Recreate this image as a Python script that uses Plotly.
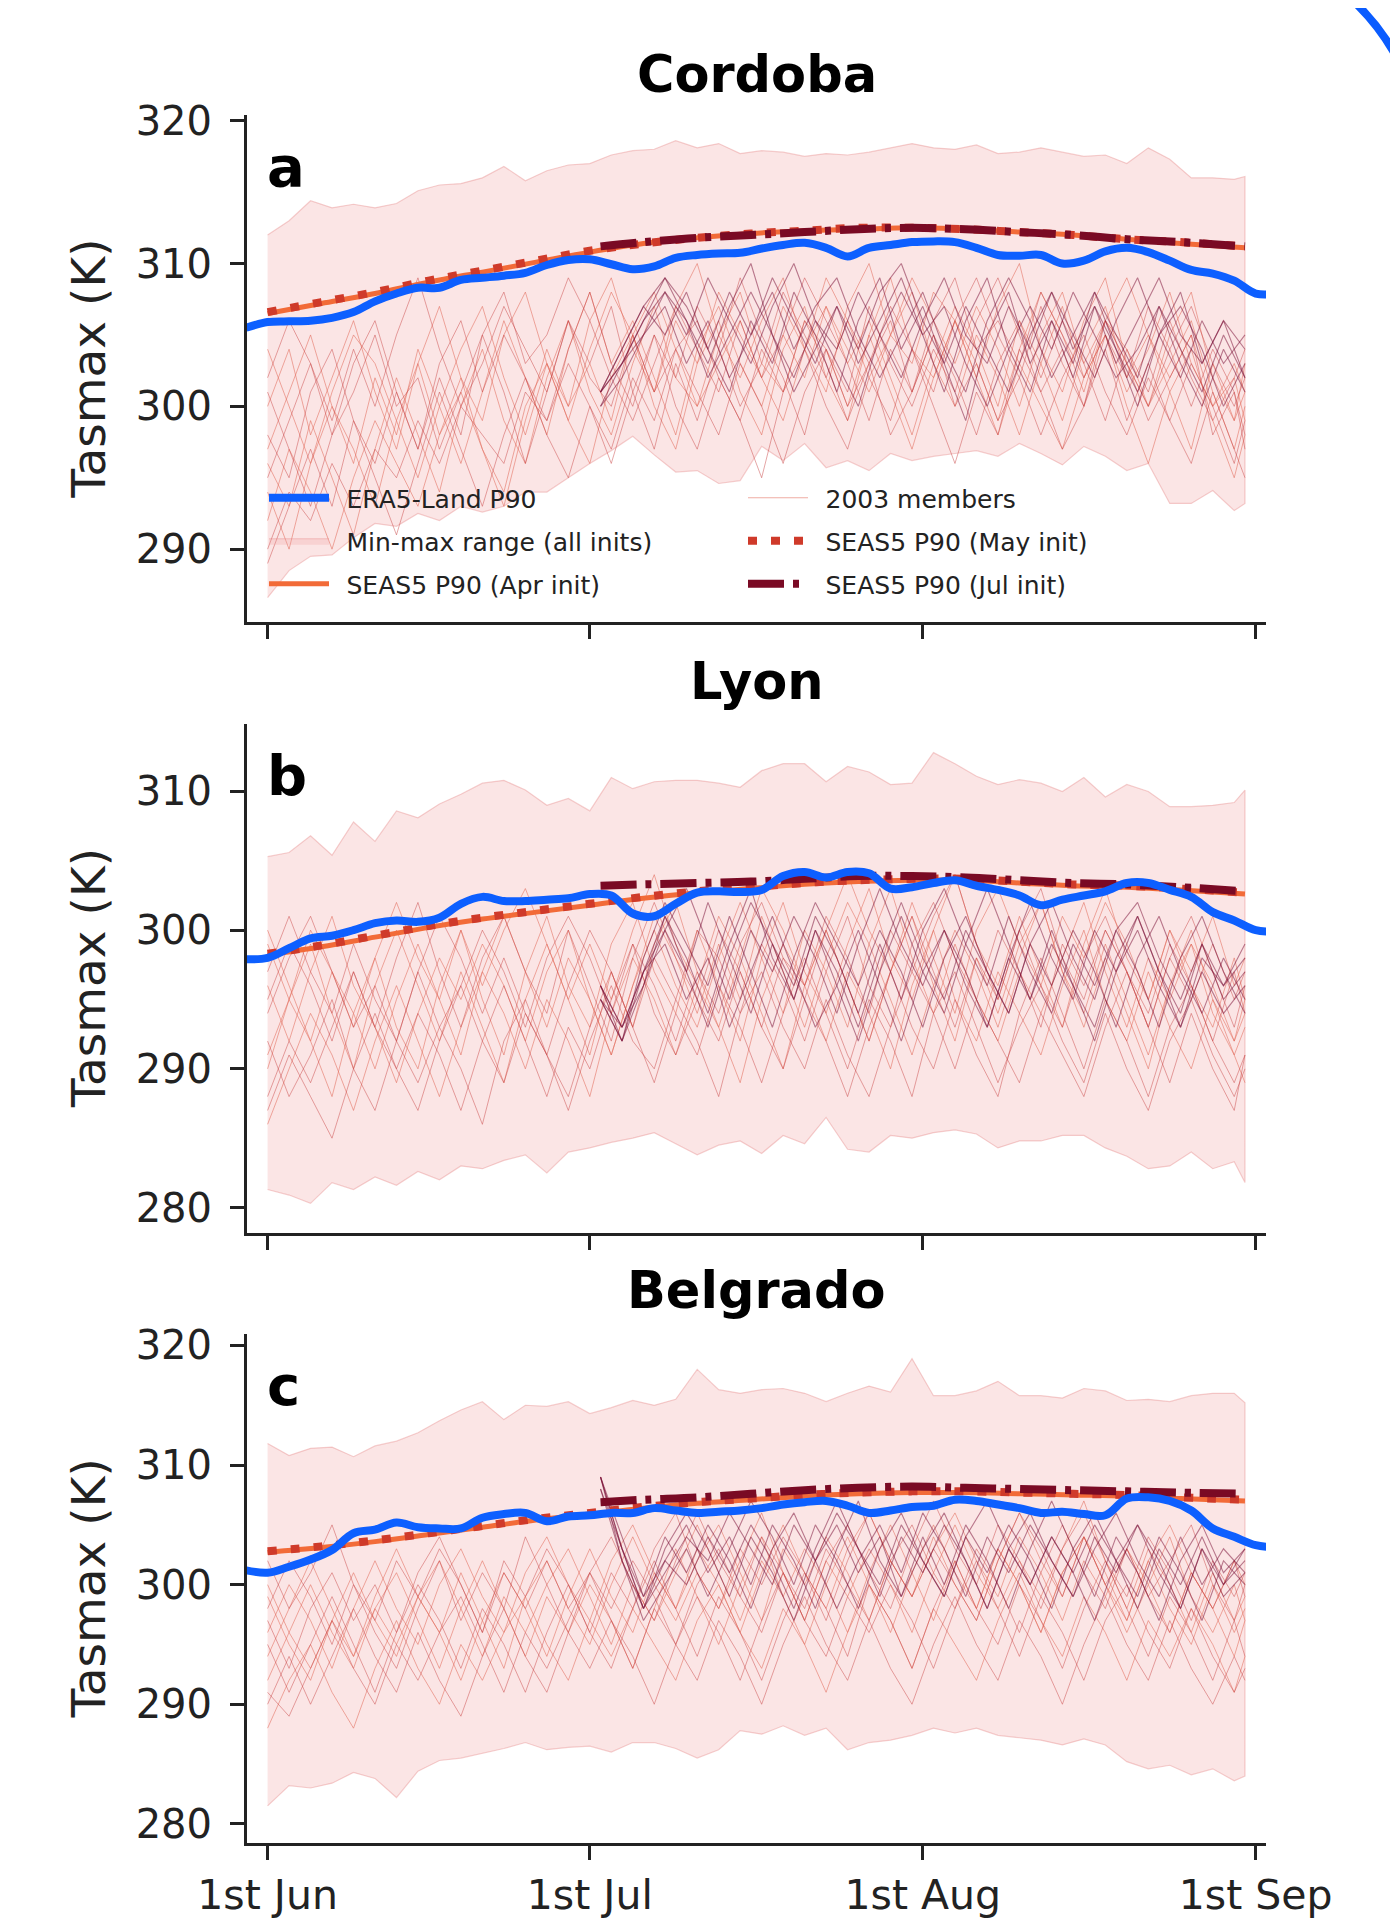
import pandas as pd
import plotly.graph_objects as go

FONT = "DejaVu Sans"
INK = "#222222"
W, H = 1398, 1927
OFF = 8  # the page body margin shifts the figure by 8 px; positions below are page pixels
BASE = pd.Timestamp("2003-06-01")

# ---------------- day offsets from 1 June 2003 ----------------
grid_days = list(range(0, 91, 2)) + [91]          # min-max band, Apr/May-init members
jul_days = list(range(31, 92, 2))                 # Jul-init members
era_days = list(range(-2, 95, 2))                 # ERA5-Land P90
p90_days = list(range(0, 90, 5)) + [91]           # SEAS5 P90 Apr / May init
jul_p90_days = [31] + list(range(35, 90, 5)) + [91]  # SEAS5 P90 Jul init

tick_dates = ["2003-06-01", "2003-07-01", "2003-08-01", "2003-09-01"]
tick_text = ["1st Jun", "1st Jul", "1st Aug", "1st Sep"]

# ---------------- Cordoba ----------------
cordoba_era5 = [305.5, 305.9, 305.95, 306.0, 306.2, 306.6, 307.35, 307.9, 308.3, 308.3, 308.85, 309.0, 309.15,
                309.35, 309.9, 310.25, 310.3, 309.95, 309.6, 309.8, 310.4, 310.6, 310.7, 310.75, 311.05, 311.3,
                311.45, 311.1, 310.5, 311.1, 311.3, 311.5, 311.55, 311.5, 311.1, 310.6, 310.55, 310.6, 310.0,
                310.2, 310.85, 311.1, 310.8, 310.2, 309.55, 309.3, 308.8, 307.9, 307.9]
cordoba_upper = [312.0, 313.0, 314.4, 313.9, 314.15, 313.9, 314.2, 315.1, 315.5, 315.6, 316.0, 316.8, 315.8, 316.5,
                 316.9, 317.0, 317.6, 317.9, 318.0, 318.6, 318.1, 318.4, 317.7, 317.9, 317.8, 317.5, 317.7, 317.6,
                 317.8, 318.1, 318.4, 318.1, 318.0, 318.3, 317.7, 317.8, 318.1, 317.8, 317.5, 317.6, 317.0, 318.1,
                 317.3, 316.0, 316.0, 315.9, 316.1]
cordoba_lower = [286.6, 288.5, 289.5, 289.6, 290.8, 291.8, 291.6, 292.5, 292.0, 293.0, 292.6, 293.0, 294.0, 294.0,
                 295.0, 296.0, 296.9, 297.9, 296.6, 295.4, 295.5, 294.6, 294.8, 297.2, 296.2, 297.4, 295.7, 296.2,
                 295.5, 296.7, 296.2, 296.5, 296.7, 296.9, 296.5, 297.4, 296.7, 295.9, 297.2, 296.5, 295.5, 296.0,
                 293.2, 293.2, 294.1, 292.7, 293.2]
cordoba_apr_p90 = [306.5, 307.2, 307.9, 308.7, 309.4, 310.1, 310.8, 311.4, 311.8, 312.1, 312.3, 312.4, 312.5, 312.4,
                   312.2, 312.0, 311.7, 311.4, 311.1]
cordoba_may_p90 = [306.6, 307.3, 308.0, 308.8, 309.5, 310.2, 310.9, 311.4, 311.8, 312.1, 312.3, 312.5, 312.5, 312.4,
                   312.2, 312.0, 311.7, 311.5, 311.2]
cordoba_jul_p90 = [311.2, 311.5, 311.8, 312.0, 312.2, 312.4, 312.5, 312.4, 312.2, 312.0, 311.7, 311.5, 311.2]
cordoba_apr_members = [
    [300, 304, 298, 302, 306, 301, 297, 303, 307, 302, 299, 305, 308, 303, 300, 306, 309, 304, 301, 307, 310, 305, 302, 306, 309, 304, 301, 307, 310, 305, 303, 308, 306, 302, 307, 310, 304, 301, 306, 309, 303, 300, 305, 308, 302, 299, 303],
    [296, 293, 299, 295, 291, 297, 302, 298, 294, 300, 304, 299, 296, 302, 306, 301, 298, 303, 307, 302, 300, 305, 308, 303, 301, 306, 304, 300, 305, 309, 304, 302, 306, 303, 299, 304, 308, 305, 301, 306, 304, 300, 303, 306, 301, 297, 300],
    [304, 300, 296, 301, 305, 303, 299, 295, 300, 304, 307, 302, 298, 303, 299, 304, 308, 305, 301, 306, 303, 308, 305, 302, 307, 304, 309, 306, 302, 305, 309, 306, 303, 307, 304, 300, 305, 308, 303, 306, 309, 305, 302, 305, 300, 303, 301],
    [292, 297, 294, 290, 295, 299, 296, 293, 298, 302, 297, 294, 300, 303, 299, 296, 302, 305, 300, 297, 303, 306, 301, 298, 304, 307, 302, 299, 305, 301, 297, 302, 306, 302, 298, 303, 300, 297, 302, 305, 300, 296, 301, 304, 299, 295, 298],
    [297, 301, 305, 300, 296, 302, 298, 304, 300, 296, 301, 306, 302, 298, 304, 308, 303, 306, 302, 298, 304, 307, 303, 300, 305, 302, 307, 304, 301, 305, 308, 303, 300, 305, 302, 298, 303, 307, 302, 305, 301, 304, 308, 303, 300, 302, 299],
    [294, 290, 296, 300, 297, 293, 299, 303, 298, 301, 297, 293, 299, 304, 300, 303, 299, 305, 308, 304, 300, 303, 306, 302, 299, 304, 307, 303, 306, 302, 298, 303, 307, 304, 300, 306, 303, 299, 304, 307, 302, 305, 301, 297, 303, 299, 301],
]
cordoba_may_members = [
    [298, 295, 301, 304, 299, 296, 301, 297, 303, 306, 301, 305, 302, 299, 304, 308, 303, 300, 305, 302, 307, 304, 300, 303, 308, 305, 302, 306, 303, 307, 304, 301, 306, 309, 305, 302, 307, 303, 300, 305, 302, 307, 304, 300, 304, 301, 298],
    [302, 306, 303, 299, 304, 300, 305, 309, 304, 300, 303, 307, 304, 301, 306, 302, 300, 305, 301, 304, 306, 302, 299, 304, 301, 306, 303, 299, 303, 306, 301, 305, 302, 298, 303, 306, 302, 306, 303, 299, 304, 301, 306, 302, 299, 302, 304],
    [295, 299, 303, 298, 301, 305, 300, 302, 297, 301, 305, 308, 303, 305, 309, 306, 302, 299, 303, 307, 304, 301, 306, 302, 305, 309, 306, 303, 299, 304, 301, 306, 309, 304, 306, 303, 308, 305, 302, 306, 303, 300, 304, 307, 303, 300, 302],
    [290, 294, 292, 296, 293, 297, 295, 299, 296, 300, 298, 296, 301, 299, 303, 300, 297, 302, 299, 304, 301, 298, 303, 300, 296, 301, 304, 300, 303, 298, 301, 305, 300, 303, 299, 302, 298, 302, 305, 301, 298, 302, 299, 303, 300, 296, 299],
    [301, 297, 293, 298, 303, 306, 301, 297, 302, 298, 305, 301, 296, 301, 306, 303, 307, 301, 297, 303, 299, 304, 309, 305, 302, 298, 304, 301, 307, 303, 300, 304, 301, 306, 309, 305, 301, 304, 300, 306, 303, 299, 302, 305, 298, 301, 297],
    [289, 293, 297, 293, 299, 295, 291, 296, 301, 297, 293, 298, 302, 298, 295, 300, 296, 301, 305, 300, 297, 302, 299, 295, 301, 304, 300, 297, 302, 299, 304, 300, 296, 301, 298, 304, 301, 297, 300, 304, 299, 303, 299, 296, 301, 297, 295],
]
cordoba_jul_members = [
    [301, 303, 306, 308, 305, 309, 306, 303, 307, 310, 306, 304, 308, 305, 302, 306, 309, 305, 303, 307, 304, 308, 305, 302, 306, 309, 305, 302, 306, 303, 305],
    [301, 304, 307, 309, 307, 304, 308, 305, 309, 306, 303, 307, 304, 308, 310, 306, 303, 307, 304, 301, 305, 308, 304, 307, 303, 306, 309, 305, 303, 306, 302],
    [300, 302, 305, 307, 303, 306, 302, 305, 308, 304, 307, 309, 305, 302, 305, 308, 304, 301, 306, 309, 306, 302, 305, 308, 304, 301, 305, 307, 304, 300, 303],
    [301, 303, 305, 308, 306, 302, 305, 308, 305, 301, 304, 307, 303, 306, 309, 305, 307, 303, 300, 304, 307, 304, 308, 305, 302, 304, 307, 303, 300, 304, 301],
    [301, 304, 307, 305, 308, 304, 301, 306, 303, 308, 305, 301, 306, 309, 304, 307, 303, 299, 305, 308, 303, 306, 302, 307, 304, 300, 305, 308, 303, 306, 304],
    [300, 303, 306, 309, 306, 303, 307, 310, 305, 302, 306, 303, 300, 305, 308, 305, 301, 306, 309, 304, 301, 306, 303, 308, 305, 302, 307, 304, 301, 305, 302],
]

# ---------------- Lyon ----------------
lyon_era5 = [297.9, 298.0, 298.7, 299.4, 299.6, 300.0, 300.5, 300.7, 300.6, 300.9, 301.9, 302.4, 302.1, 302.1,
             302.2, 302.3, 302.6, 302.5, 301.2, 301.0, 301.9, 302.7, 302.8, 302.75, 302.9, 303.9, 304.2, 303.8,
             304.2, 304.1, 303.0, 303.1, 303.4, 303.6, 303.2, 302.9, 302.5, 301.8, 302.2, 302.5, 302.8, 303.4,
             303.4, 302.9, 302.4, 301.3, 300.7, 300.0, 299.9]
lyon_upper = [305.3, 305.6, 306.8, 305.4, 307.8, 306.4, 308.6, 308.1, 309.1, 309.8, 310.6, 310.8, 310.1, 309.0,
              309.5, 308.6, 311.0, 310.2, 310.7, 310.8, 310.8, 310.6, 310.3, 311.5, 312.0, 312.0, 310.7, 311.8,
              311.4, 310.5, 310.6, 312.8, 312.0, 311.1, 310.5, 310.85, 310.6, 310.0, 311.0, 309.6, 310.5, 310.0,
              308.9, 308.9, 309.0, 309.2, 310.1]
lyon_lower = [281.3, 280.9, 280.3, 281.8, 281.3, 282.2, 281.6, 282.6, 282.0, 283.0, 282.8, 283.4, 283.8, 282.5,
              284.0, 284.3, 284.7, 285.0, 285.4, 284.6, 283.8, 284.5, 284.8, 283.9, 285.2, 284.6, 286.5, 284.2,
              284.0, 285.2, 285.0, 285.4, 285.6, 285.3, 284.3, 284.8, 284.8, 285.2, 285.2, 284.3, 283.7, 282.8,
              283.0, 284.0, 282.8, 283.3, 281.8]
lyon_apr_p90 = [298.2, 298.8, 299.5, 300.2, 300.8, 301.3, 301.8, 302.3, 302.7, 303.0, 303.3, 303.5, 303.6, 303.6,
                303.4, 303.2, 303.1, 302.9, 302.6]
lyon_may_p90 = [298.3, 298.9, 299.6, 300.3, 300.9, 301.4, 301.9, 302.4, 302.8, 303.1, 303.4, 303.6, 303.7, 303.7,
                303.5, 303.3, 303.2, 303.0, 302.7]
lyon_jul_p90 = [303.2, 303.3, 303.4, 303.5, 303.7, 303.9, 303.9, 303.8, 303.6, 303.4, 303.3, 303.1, 302.8]
lyon_apr_members = [
    [290, 295, 292, 288, 294, 298, 293, 290, 296, 300, 295, 291, 297, 301, 296, 293, 299, 302, 297, 294, 300, 296, 292, 298, 302, 297, 294, 299, 303, 298, 295, 300, 304, 299, 296, 301, 297, 293, 299, 303, 298, 295, 300, 296, 293, 298, 295],
    [296, 292, 297, 301, 296, 293, 289, 294, 298, 295, 299, 296, 292, 297, 300, 295, 291, 296, 301, 298, 294, 299, 295, 301, 297, 293, 298, 302, 299, 295, 291, 296, 300, 297, 293, 298, 302, 297, 294, 299, 295, 291, 296, 299, 294, 291, 293],
    [286, 290, 294, 291, 287, 292, 296, 292, 288, 293, 297, 294, 290, 295, 292, 288, 294, 298, 295, 291, 296, 293, 289, 295, 299, 296, 292, 297, 294, 290, 296, 300, 295, 292, 297, 294, 291, 296, 300, 295, 292, 297, 293, 290, 295, 291, 289],
    [299, 295, 300, 297, 293, 298, 302, 298, 295, 300, 296, 300, 303, 299, 295, 299, 295, 300, 304, 299, 296, 301, 298, 303, 300, 296, 300, 304, 300, 297, 302, 298, 294, 300, 303, 299, 296, 301, 298, 302, 299, 295, 300, 297, 301, 296, 298],
    [291, 295, 299, 294, 290, 296, 300, 296, 292, 297, 293, 289, 295, 299, 295, 291, 297, 293, 299, 302, 297, 293, 298, 294, 290, 296, 300, 296, 292, 297, 301, 296, 292, 298, 294, 299, 302, 297, 293, 298, 294, 290, 296, 300, 295, 292, 294],
    [300, 296, 292, 297, 294, 290, 295, 299, 295, 291, 297, 301, 297, 293, 298, 295, 291, 296, 300, 296, 293, 298, 302, 298, 294, 300, 297, 293, 299, 303, 298, 294, 299, 295, 292, 297, 294, 298, 302, 297, 293, 298, 295, 299, 296, 292, 295],
]
lyon_may_members = [
    [292, 288, 291, 295, 290, 287, 292, 289, 293, 290, 286, 292, 295, 291, 288, 293, 297, 293, 289, 294, 291, 296, 293, 289, 294, 298, 294, 290, 295, 292, 288, 294, 297, 293, 289, 293, 296, 292, 289, 294, 290, 287, 292, 295, 291, 288, 290],
    [294, 298, 301, 297, 293, 296, 292, 297, 301, 298, 294, 298, 294, 291, 296, 300, 297, 293, 298, 295, 300, 298, 294, 299, 296, 292, 297, 301, 296, 293, 299, 302, 298, 295, 300, 297, 293, 299, 296, 300, 297, 293, 298, 301, 297, 293, 296],
    [288, 292, 289, 293, 297, 293, 290, 294, 291, 287, 292, 296, 292, 288, 293, 290, 295, 299, 294, 291, 295, 292, 297, 293, 290, 295, 292, 288, 293, 297, 293, 290, 295, 291, 288, 294, 298, 294, 290, 295, 292, 288, 293, 296, 292, 289, 291],
    [297, 301, 297, 294, 299, 295, 292, 297, 293, 296, 300, 297, 293, 298, 301, 298, 294, 299, 296, 292, 297, 294, 299, 302, 298, 295, 300, 296, 292, 297, 301, 297, 293, 298, 295, 300, 303, 298, 295, 300, 297, 293, 298, 295, 299, 295, 297],
    [287, 291, 288, 285, 290, 294, 290, 287, 292, 296, 292, 289, 294, 291, 287, 292, 296, 292, 290, 295, 292, 288, 294, 297, 293, 290, 295, 291, 288, 293, 297, 294, 290, 295, 292, 289, 294, 291, 288, 293, 297, 293, 289, 294, 290, 287, 291],
    [295, 299, 296, 292, 297, 293, 298, 302, 297, 293, 298, 301, 297, 294, 300, 296, 292, 298, 302, 298, 295, 300, 297, 293, 298, 296, 301, 298, 294, 300, 297, 301, 304, 299, 295, 300, 296, 293, 298, 301, 297, 294, 299, 296, 292, 297, 294],
]
lyon_jul_members = [
    [295, 292, 297, 301, 298, 294, 299, 303, 298, 295, 300, 297, 293, 298, 302, 298, 295, 300, 297, 294, 299, 302, 298, 295, 300, 297, 293, 298, 301, 297, 294],
    [296, 293, 296, 300, 297, 302, 298, 294, 299, 296, 301, 298, 294, 299, 295, 300, 303, 299, 296, 301, 297, 294, 299, 296, 300, 302, 298, 295, 299, 296, 298],
    [295, 292, 298, 302, 299, 296, 301, 297, 293, 298, 302, 299, 296, 300, 297, 293, 298, 301, 297, 294, 299, 296, 300, 297, 293, 298, 301, 297, 294, 298, 295],
    [296, 293, 297, 299, 295, 298, 293, 297, 301, 297, 293, 296, 300, 296, 292, 297, 300, 296, 293, 298, 295, 299, 296, 292, 297, 300, 296, 293, 297, 294, 296],
    [296, 292, 296, 301, 297, 293, 298, 302, 299, 295, 300, 296, 292, 297, 301, 297, 294, 299, 303, 299, 295, 300, 296, 293, 298, 301, 297, 294, 299, 295, 297],
    [295, 293, 297, 300, 303, 299, 295, 300, 297, 301, 298, 294, 299, 303, 299, 296, 300, 297, 293, 298, 302, 298, 295, 300, 297, 301, 297, 293, 298, 296, 299],
]

# ---------------- Belgrado ----------------
belgrado_era5 = [301.2, 301.0, 301.5, 302.1, 302.9, 304.3, 304.6, 305.2, 304.8, 304.7, 304.7, 305.6, 305.9, 306.0,
                 305.3, 305.7, 305.8, 306.0, 306.0, 306.4, 306.2, 306.0, 306.1, 306.2, 306.4, 306.7, 306.9, 307.0,
                 306.6, 306.0, 306.2, 306.5, 306.6, 307.1, 307.0, 306.7, 306.4, 306.0, 306.1, 305.9, 305.8, 307.2,
                 307.3, 307.0, 306.2, 304.7, 304.0, 303.3, 303.1]
belgrado_upper = [311.8, 310.8, 311.4, 311.5, 310.7, 311.6, 312.0, 312.7, 313.7, 314.6, 315.3, 313.8, 315.0, 314.9,
                  315.3, 314.3, 314.8, 315.4, 315.0, 315.5, 318.0, 316.3, 316.0, 316.3, 316.4, 316.0, 315.3, 316.0,
                  316.6, 316.1, 318.9, 315.8, 315.8, 316.2, 317.0, 315.8, 315.8, 315.6, 316.4, 316.2, 315.4, 315.5,
                  315.3, 315.8, 316.0, 316.0, 315.2]
belgrado_lower = [281.5, 283.2, 283.0, 283.4, 284.3, 283.8, 282.2, 284.4, 285.3, 285.5, 285.9, 286.3, 286.8, 286.2,
                  286.4, 286.5, 286.0, 286.8, 286.8, 286.3, 285.5, 286.2, 287.8, 287.5, 288.2, 287.4, 288.0, 286.2,
                  286.8, 287.0, 287.4, 288.0, 287.6, 288.0, 287.4, 287.2, 287.0, 286.6, 287.1, 286.6, 285.2, 284.6,
                  284.9, 284.1, 284.6, 283.6, 284.0]
belgrado_apr_p90 = [302.7, 303.1, 303.6, 304.2, 304.8, 305.4, 305.9, 306.4, 306.8, 307.1, 307.4, 307.6, 307.7, 307.7,
                    307.6, 307.5, 307.4, 307.2, 307.0]
belgrado_may_p90 = [302.8, 303.2, 303.7, 304.3, 304.9, 305.5, 306.0, 306.5, 306.9, 307.2, 307.5, 307.7, 307.8, 307.8,
                    307.7, 307.6, 307.5, 307.3, 307.1]
belgrado_jul_p90 = [306.9, 307.1, 307.3, 307.6, 307.9, 308.1, 308.2, 308.1, 308.0, 307.9, 307.8, 307.7, 307.6]
belgrado_apr_members = [
    [296, 300, 297, 293, 298, 302, 298, 295, 300, 303, 299, 296, 301, 304, 300, 297, 302, 305, 301, 298, 303, 300, 296, 301, 305, 301, 298, 303, 306, 302, 299, 304, 300, 297, 302, 306, 302, 299, 304, 301, 297, 302, 305, 301, 298, 302, 300],
    [292, 296, 300, 296, 293, 298, 295, 299, 302, 298, 294, 299, 296, 300, 303, 299, 295, 300, 297, 301, 305, 301, 297, 302, 299, 295, 300, 304, 300, 296, 301, 305, 301, 298, 303, 300, 296, 301, 304, 300, 297, 302, 298, 295, 300, 296, 298],
    [299, 295, 292, 297, 301, 297, 294, 299, 296, 292, 297, 301, 298, 294, 299, 303, 299, 296, 301, 298, 302, 305, 301, 297, 303, 300, 304, 301, 297, 302, 299, 303, 306, 302, 299, 304, 301, 297, 302, 299, 303, 300, 296, 301, 298, 294, 297],
    [288, 292, 295, 291, 288, 293, 297, 293, 290, 295, 292, 296, 299, 295, 292, 297, 294, 298, 295, 292, 297, 300, 296, 293, 298, 295, 291, 296, 300, 297, 293, 298, 295, 292, 297, 301, 297, 294, 299, 296, 292, 297, 294, 298, 295, 291, 294],
    [294, 298, 302, 298, 294, 299, 303, 299, 296, 301, 297, 293, 299, 302, 298, 295, 300, 304, 300, 297, 301, 298, 302, 306, 301, 297, 302, 299, 303, 300, 296, 301, 305, 301, 298, 302, 299, 303, 307, 302, 298, 303, 300, 296, 301, 297, 299],
    [300, 296, 293, 297, 294, 298, 301, 297, 293, 298, 302, 298, 294, 299, 296, 300, 297, 293, 298, 303, 299, 295, 300, 304, 299, 303, 300, 296, 301, 305, 301, 297, 302, 298, 303, 300, 296, 301, 304, 300, 296, 300, 304, 299, 296, 300, 297],
]
belgrado_may_members = [
    [302, 298, 301, 305, 300, 297, 302, 299, 303, 300, 296, 301, 298, 302, 298, 301, 304, 300, 297, 302, 306, 302, 299, 304, 301, 297, 302, 305, 301, 298, 303, 307, 303, 300, 305, 302, 298, 303, 306, 302, 299, 304, 301, 297, 302, 299, 301],
    [295, 291, 295, 299, 295, 291, 296, 300, 297, 293, 298, 295, 291, 296, 300, 296, 293, 298, 302, 298, 294, 299, 296, 292, 297, 301, 298, 294, 300, 297, 293, 298, 302, 298, 295, 300, 297, 293, 298, 302, 298, 294, 299, 296, 292, 297, 294],
    [290, 294, 290, 294, 298, 294, 291, 296, 292, 289, 294, 298, 294, 291, 296, 293, 297, 294, 290, 295, 292, 297, 294, 290, 295, 299, 295, 292, 297, 293, 290, 295, 299, 295, 292, 297, 294, 290, 295, 299, 295, 292, 297, 293, 290, 294, 292],
    [298, 302, 299, 295, 300, 296, 293, 298, 302, 297, 301, 298, 304, 300, 296, 301, 298, 302, 299, 295, 300, 303, 299, 296, 301, 298, 303, 300, 297, 302, 305, 301, 298, 303, 300, 296, 301, 305, 301, 298, 303, 299, 296, 301, 298, 302, 299],
    [291, 289, 293, 297, 293, 290, 295, 292, 296, 299, 295, 291, 296, 293, 297, 301, 297, 293, 298, 295, 299, 296, 292, 297, 301, 297, 294, 299, 296, 300, 297, 293, 298, 302, 298, 294, 299, 296, 292, 297, 300, 296, 293, 298, 294, 291, 293],
    [297, 293, 298, 301, 297, 300, 296, 301, 304, 300, 296, 302, 299, 303, 300, 296, 301, 298, 303, 306, 301, 298, 303, 300, 304, 301, 297, 302, 306, 302, 299, 303, 300, 297, 302, 306, 303, 299, 304, 300, 303, 299, 302, 305, 300, 297, 300],
]
belgrado_jul_members = [
    [309, 303, 298, 301, 304, 302, 306, 303, 300, 305, 302, 306, 303, 299, 304, 301, 305, 302, 298, 303, 306, 302, 299, 304, 301, 305, 302, 298, 303, 300, 302],
    [309, 304, 299, 302, 300, 304, 301, 305, 302, 298, 303, 307, 303, 300, 305, 302, 299, 304, 307, 303, 300, 304, 301, 297, 302, 305, 301, 298, 303, 299, 301],
    [308, 302, 297, 300, 303, 299, 303, 307, 304, 300, 305, 302, 298, 303, 306, 302, 299, 304, 301, 305, 302, 298, 303, 306, 302, 299, 304, 301, 297, 302, 300],
    [309, 303, 298, 303, 306, 303, 299, 304, 301, 297, 302, 305, 301, 304, 299, 303, 306, 302, 298, 303, 300, 304, 301, 305, 302, 298, 303, 300, 304, 300, 303],
    [309, 302, 298, 302, 305, 301, 304, 300, 305, 302, 298, 303, 307, 302, 299, 304, 300, 305, 302, 298, 303, 307, 303, 299, 304, 301, 297, 302, 305, 301, 303],
    [308, 303, 299, 304, 301, 305, 302, 298, 303, 306, 302, 298, 302, 305, 301, 306, 303, 299, 304, 301, 305, 302, 299, 303, 306, 302, 299, 304, 300, 303, 301],
]

cities = ["Cordoba", "Lyon", "Belgrado"]
letters = ["a", "b", "c"]
yticks = [[290, 300, 310, 320], [280, 290, 300, 310], [280, 290, 300, 310, 320]]

# ---------------- styling / layout spec ----------------
BAND_FILL = "rgba(242,160,160,0.28)"
BAND_LINE = "rgba(225,120,120,0.35)"
APR_MEM = "rgba(225,105,90,0.55)"
MAY_MEM = "rgba(200,70,70,0.48)"
JUL_MEM = "rgba(120,10,50,0.5)"
ERA_COL = "#0d5fff"
APR_COL = "#f26b38"
MAY_COL = "#cf3a2a"
JUL_COL = "#7a0a24"

layout_spec = [
    dict(yrange=[284.9, 320.4], top=115, bottom=622, title_y=74, letter_y=166),
    dict(yrange=[278.2, 314.9], top=723.5, bottom=1232.5, title_y=681, letter_y=776),
    dict(yrange=[278.4, 321.0], top=1333.5, bottom=1843, title_y=1290, letter_y=1385),
]
X_LEFT, X_RIGHT = 247, 1266
XRANGE = ["2003-05-30 02:00", "2003-09-01 23:00"]


def px(x):
    return (x - OFF) / W


def py(y):
    return 1 - (y - OFF) / H


def to_dates(days):
    return [BASE + pd.Timedelta(days=d) for d in days]


def multi(days, series_list):
    xs, ys = [], []
    for s in series_list:
        xs += to_dates(days) + [None]
        ys += list(s) + [None]
    return xs, ys


data = [
    dict(era5=cordoba_era5, upper=cordoba_upper, lower=cordoba_lower, apr=cordoba_apr_p90, may=cordoba_may_p90,
         jul=cordoba_jul_p90, apr_m=cordoba_apr_members, may_m=cordoba_may_members, jul_m=cordoba_jul_members),
    dict(era5=lyon_era5, upper=lyon_upper, lower=lyon_lower, apr=lyon_apr_p90, may=lyon_may_p90,
         jul=lyon_jul_p90, apr_m=lyon_apr_members, may_m=lyon_may_members, jul_m=lyon_jul_members),
    dict(era5=belgrado_era5, upper=belgrado_upper, lower=belgrado_lower, apr=belgrado_apr_p90,
         may=belgrado_may_p90, jul=belgrado_jul_p90, apr_m=belgrado_apr_members, may_m=belgrado_may_members,
         jul_m=belgrado_jul_members),
]

SP = "\u2002"  # small gap between legend symbol and label

fig = go.Figure()

for i, d in enumerate(data):
    xa = "x" if i == 0 else f"x{i + 1}"
    ya = "y" if i == 0 else f"y{i + 1}"
    leg = i == 0
    # min-max band
    bx = to_dates(grid_days) + to_dates(grid_days[::-1])
    by = list(d["upper"]) + list(d["lower"])[::-1]
    fig.add_trace(go.Scatter(x=bx, y=by, fill="toself", fillcolor=BAND_FILL, mode="lines",
                             line=dict(color=BAND_LINE, width=1.2), name=SP + "Min-max range (all inits)",
                             showlegend=leg, legend="legend2", legendrank=1, xaxis=xa, yaxis=ya,
                             hoverinfo="skip"))
    # members
    mx, my = multi(grid_days, d["apr_m"])
    fig.add_trace(go.Scatter(x=mx, y=my, mode="lines", line=dict(color=APR_MEM, width=1),
                             name=SP + "2003 members", showlegend=leg, legend="legend", legendrank=2,
                             xaxis=xa, yaxis=ya, hoverinfo="skip"))
    mx, my = multi(grid_days, d["may_m"])
    fig.add_trace(go.Scatter(x=mx, y=my, mode="lines", line=dict(color=MAY_MEM, width=1),
                             showlegend=False, xaxis=xa, yaxis=ya, hoverinfo="skip"))
    mx, my = multi(jul_days, d["jul_m"])
    fig.add_trace(go.Scatter(x=mx, y=my, mode="lines", line=dict(color=JUL_MEM, width=1.1),
                             showlegend=False, xaxis=xa, yaxis=ya, hoverinfo="skip"))
    # SEAS5 P90
    fig.add_trace(go.Scatter(x=to_dates(p90_days), y=d["apr"], mode="lines",
                             line=dict(color=APR_COL, width=5, shape="spline"),
                             name=SP + "SEAS5 P90 (Apr init)", showlegend=leg, legend="legend3", legendrank=1,
                             xaxis=xa, yaxis=ya))
    fig.add_trace(go.Scatter(x=to_dates(p90_days), y=d["may"], mode="lines",
                             line=dict(color=MAY_COL, width=8, dash="9px,14px", shape="spline"),
                             name=SP + "SEAS5 P90 (May init)", showlegend=leg, legend="legend2", legendrank=2,
                             xaxis=xa, yaxis=ya))
    fig.add_trace(go.Scatter(x=to_dates(jul_p90_days), y=d["jul"], mode="lines",
                             line=dict(color=JUL_COL, width=8, dash="36px,9px,6px,9px", shape="spline"),
                             name=SP + "SEAS5 P90 (Jul init)", showlegend=leg, legend="legend3", legendrank=2,
                             xaxis=xa, yaxis=ya))
    # ERA5-Land
    fig.add_trace(go.Scatter(x=to_dates(era_days), y=d["era5"], mode="lines",
                             line=dict(color=ERA_COL, width=8, shape="spline"),
                             name=SP + "ERA5-Land P90", showlegend=leg, legend="legend", legendrank=1,
                             xaxis=xa, yaxis=ya))

layout = dict(
    width=W, height=H, margin=dict(l=0, r=0, t=0, b=0, autoexpand=False),
    paper_bgcolor="white", plot_bgcolor="white",
    font=dict(family=FONT, color=INK),
    showlegend=True,
)

annotations = []
for i, spec in enumerate(layout_spec):
    xk = "xaxis" if i == 0 else f"xaxis{i + 1}"
    yk = "yaxis" if i == 0 else f"yaxis{i + 1}"
    ydom = [py(spec["bottom"]), py(spec["top"])]
    last = i == len(layout_spec) - 1
    layout[xk] = dict(
        domain=[px(X_LEFT), px(X_RIGHT)], anchor="y" if i == 0 else f"y{i + 1}", automargin=False,
        type="date", range=XRANGE, tickmode="array", tickvals=tick_dates, ticktext=tick_text,
        showticklabels=last, ticks="outside", ticklen=14, tickwidth=2.5, tickcolor=INK,
        showline=True, linecolor=INK, linewidth=3, showgrid=False, zeroline=False,
        tickfont=dict(family=FONT, size=41, color=INK),
    )
    layout[yk] = dict(
        domain=ydom, anchor="x" if i == 0 else f"x{i + 1}", range=spec["yrange"], automargin=False,
        tickmode="array", tickvals=yticks[i], ticks="outside", ticklen=14, tickwidth=2.5,
        tickcolor=INK, showline=True, linecolor=INK, linewidth=3, showgrid=False, zeroline=False,
        ticklabelstandoff=10, tickfont=dict(family=FONT, size=40, color=INK),
    )
    ymid = (py(spec["top"]) + py(spec["bottom"])) / 2
    annotations.append(dict(text="Tasmax (K)", x=px(88), y=ymid, xref="paper", yref="paper",
                            showarrow=False, textangle=-90, xanchor="center", yanchor="middle",
                            font=dict(family=FONT, size=47, color=INK)))
    annotations.append(dict(text=f"<b>{cities[i]}</b>", x=px((X_LEFT + X_RIGHT) / 2), y=py(spec["title_y"]),
                            xref="paper", yref="paper", showarrow=False, xanchor="center",
                            yanchor="middle", font=dict(family=FONT, size=51, color="#000")))
    annotations.append(dict(text=f"<b>{letters[i]}</b>", x=px(265), y=py(spec["letter_y"]),
                            xref="paper", yref="paper", showarrow=False, xanchor="left",
                            yanchor="middle", font=dict(family=FONT, size=56, color="#000")))
layout["annotations"] = annotations

leg_common = dict(orientation="h", xanchor="left", yanchor="middle", x=px(264),
                  entrywidth=404, entrywidthmode="pixels", itemwidth=60,
                  bgcolor="rgba(0,0,0,0)", borderwidth=0,
                  font=dict(family=FONT, size=25, color=INK), traceorder="normal")
layout["legend"] = dict(leg_common, y=py(498))
layout["legend2"] = dict(leg_common, y=py(541))
layout["legend3"] = dict(leg_common, y=py(584))

# blue arc fragment at the top-right corner of the picture
layout["shapes"] = [dict(type="path", xref="paper", yref="paper",
                         path=f"M {px(1348)},{py(-4)} Q {px(1384)},{py(28)} {px(1404)},{py(72)}",
                         line=dict(color="#0a5cff", width=8))]

fig.update_layout(layout)
fig.write_html("out.html")
